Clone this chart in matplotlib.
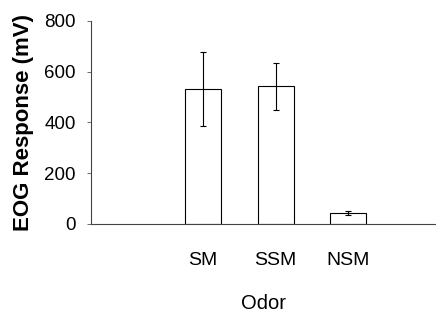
import matplotlib.pyplot as plt
import numpy as np

odors = ["SM", "SSM", "NSM"]
response = [533, 543, 42]
error = [146, 93, 8]
y_ticks = [0, 200, 400, 600, 800]

plt.rcParams['font.family'] = ['Liberation Sans', 'DejaVu Sans']

fig = plt.figure(figsize=(4.36, 3.2), dpi=100)
ax = fig.add_axes([0.2087, 0.30, 0.7913, 0.6344])

x = np.arange(len(odors))
ax.bar(x, response, width=0.5, color="white", edgecolor="black", linewidth=0.8,
       yerr=error, capsize=2.5, error_kw=dict(elinewidth=0.8, capthick=0.8, ecolor="black"))

ax.set_xlim(-1.545, 3.21)
ax.set_ylim(0, 800)
ax.set_yticks(y_ticks)
ax.set_xticks(x)
ax.set_xticklabels(odors, fontsize=14)
ax.tick_params(axis="x", length=0, pad=20)
ax.tick_params(axis="y", length=3, width=0.6, labelsize=13.5, pad=8, color="#555555")

for side in ["top", "right"]:
    ax.spines[side].set_visible(False)
for side in ["left", "bottom"]:
    ax.spines[side].set_color("#444444")
    ax.spines[side].set_linewidth(0.8)

ax.set_ylabel("EOG Response (mV)", fontsize=16, fontweight="bold", labelpad=7)
ax.set_xlabel("Odor", fontsize=14.5, labelpad=18)

fig.savefig("out.png", dpi=100)
